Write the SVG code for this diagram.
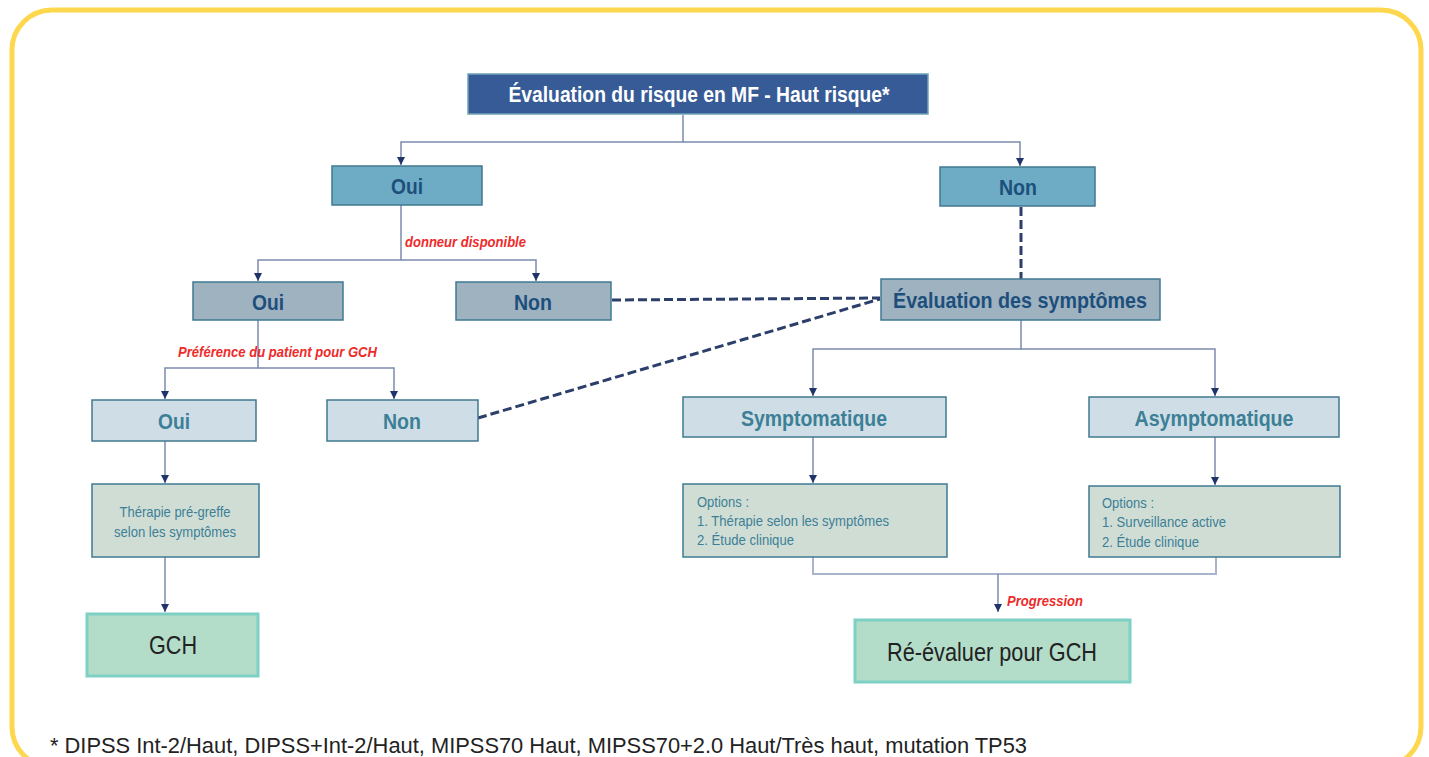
<svg xmlns="http://www.w3.org/2000/svg" width="1429" height="757" viewBox="0 0 1429 757">
<defs>
<style>
.b{stroke-width:1.5}
.title{fill:#365b96;stroke:#6ea3b5}
.l1{fill:#6eacc5;stroke:#41798f}
.l2{fill:#9fb2c0;stroke:#3f7a92}
.l3{fill:#cfdee6;stroke:#41798f}
.opt{fill:#d0ddd5;stroke:#3f7a92}
.fin{fill:#b3ddc8;stroke:#7fd0c4;stroke-width:3}
text{font-family:"Liberation Sans Narrow","Liberation Sans",Arial,sans-serif}
.tb{font-weight:bold;font-size:22px;text-anchor:middle}
.dk{fill:#1d4f7c}
.tl{fill:#3c7f96}
.sm{font-size:15px;fill:#3c7f96}
.red{fill:#ee2a2a;font-weight:bold;font-style:italic;font-size:14px}
.big{font-size:26px;fill:#222;text-anchor:middle}
.ln{fill:none;stroke:#7c8bad;stroke-width:1.5}
.ln2{fill:none;stroke:#aab5cc;stroke-width:2}
.ds{fill:none;stroke:#2c3f6b;stroke-width:3;stroke-dasharray:9 4}
</style>
<marker id="ah" viewBox="0 0 10 10" refX="10" refY="5" markerWidth="8" markerHeight="8" markerUnits="userSpaceOnUse" orient="auto">
<path d="M0,0 L10,5 L0,10 z" fill="#1f3468"/>
</marker>
</defs>
<rect x="12" y="10" width="1409" height="757" rx="40" fill="#fff" stroke="#fdd74d" stroke-width="5"/>

<g id="connectors">
<path class="ln" d="M683,115 V142 H401 V165" marker-end="url(#ah)"/>
<path class="ln" d="M683,142 H1020 V166" marker-end="url(#ah)"/>
<path class="ln" d="M401,205 V260 H258 V281" marker-end="url(#ah)"/>
<path class="ln" d="M401,260 H536 V281" marker-end="url(#ah)"/>
<path class="ln" d="M258,320 V368 H165 V399" marker-end="url(#ah)"/>
<path class="ln" d="M258,368 H394 V399" marker-end="url(#ah)"/>
<path class="ln" d="M165,441 V483" marker-end="url(#ah)"/>
<path class="ln" d="M165,557 V612" marker-end="url(#ah)"/>
<path class="ds" d="M1021,207 V279"/>
<path class="ds" d="M612,300 L880,298"/>
<path class="ds" d="M478,418 L880,299"/>
<path class="ln" d="M1021,320 V349 H813 V396" marker-end="url(#ah)"/>
<path class="ln" d="M1021,349 H1215 V396" marker-end="url(#ah)"/>
<path class="ln" d="M813,437 V483" marker-end="url(#ah)"/>
<path class="ln" d="M1215,437 V485" marker-end="url(#ah)"/>
<path class="ln2" d="M813,557 V574 H1216 V557"/>
<path class="ln" d="M998,574 V612" marker-end="url(#ah)"/>
<text class="red" x="405" y="247" textLength="121" lengthAdjust="spacingAndGlyphs">donneur disponible</text>
<text class="red" x="178" y="357" textLength="199" lengthAdjust="spacingAndGlyphs">Préférence du patient pour GCH</text>
<text class="red" x="1007" y="606" textLength="76" lengthAdjust="spacingAndGlyphs">Progression</text>
</g>

<g id="n-title">
<rect class="title b" x="468" y="74" width="460" height="40"/>
<text class="tb" x="699" y="102" fill="#fff" textLength="381" lengthAdjust="spacingAndGlyphs">Évaluation du risque en MF - Haut risque*</text>
</g>
<g id="n-oui1">
<rect class="l1 b" x="332" y="166" width="150" height="39"/>
<text class="tb dk" x="407" y="194" textLength="32" lengthAdjust="spacingAndGlyphs">Oui</text>
</g>
<g id="n-non1">
<rect class="l1 b" x="940" y="167" width="155" height="39"/>
<text class="tb dk" x="1018" y="195" textLength="38" lengthAdjust="spacingAndGlyphs">Non</text>
</g>
<g id="n-oui2">
<rect class="l2 b" x="193" y="282" width="150" height="38"/>
<text class="tb dk" x="268" y="310" textLength="32" lengthAdjust="spacingAndGlyphs">Oui</text>
</g>
<g id="n-non2">
<rect class="l2 b" x="456" y="282" width="155" height="38"/>
<text class="tb dk" x="533" y="310" textLength="38" lengthAdjust="spacingAndGlyphs">Non</text>
</g>
<g id="n-eval">
<rect class="l2 b" x="881" y="279" width="279" height="41"/>
<text class="tb dk" x="1020" y="308" textLength="254" lengthAdjust="spacingAndGlyphs">Évaluation des symptômes</text>
</g>
<g id="n-oui3">
<rect class="l3 b" x="92" y="400" width="164" height="41"/>
<text class="tb tl" x="174" y="429" textLength="32" lengthAdjust="spacingAndGlyphs">Oui</text>
</g>
<g id="n-non3">
<rect class="l3 b" x="327" y="400" width="151" height="41"/>
<text class="tb tl" x="402" y="429" textLength="38" lengthAdjust="spacingAndGlyphs">Non</text>
</g>
<g id="n-sympt">
<rect class="l3 b" x="683" y="397" width="263" height="40"/>
<text class="tb tl" x="814" y="426" textLength="146" lengthAdjust="spacingAndGlyphs">Symptomatique</text>
</g>
<g id="n-asympt">
<rect class="l3 b" x="1089" y="397" width="250" height="40"/>
<text class="tb tl" x="1214" y="426" textLength="159" lengthAdjust="spacingAndGlyphs">Asymptomatique</text>
</g>
<g id="n-therapie">
<rect class="opt b" x="92" y="484" width="167" height="73"/>
<text class="sm" x="175" y="517" text-anchor="middle" textLength="111" lengthAdjust="spacingAndGlyphs">Thérapie pré-greffe</text>
<text class="sm" x="175" y="537" text-anchor="middle" textLength="122" lengthAdjust="spacingAndGlyphs">selon les symptômes</text>
</g>
<g id="n-opt1">
<rect class="opt b" x="683" y="484" width="264" height="73"/>
<text class="sm" x="697" y="507" textLength="52" lengthAdjust="spacingAndGlyphs">Options :</text>
<text class="sm" x="697" y="526" textLength="192" lengthAdjust="spacingAndGlyphs">1. Thérapie selon les symptômes</text>
<text class="sm" x="697" y="545" textLength="97" lengthAdjust="spacingAndGlyphs">2. Étude clinique</text>
</g>
<g id="n-opt2">
<rect class="opt b" x="1089" y="486" width="251" height="71"/>
<text class="sm" x="1102" y="508" textLength="52" lengthAdjust="spacingAndGlyphs">Options :</text>
<text class="sm" x="1102" y="527" textLength="124" lengthAdjust="spacingAndGlyphs">1. Surveillance active</text>
<text class="sm" x="1102" y="547" textLength="97" lengthAdjust="spacingAndGlyphs">2. Étude clinique</text>
</g>
<g id="n-gch">
<rect class="fin" x="87" y="614" width="171" height="62"/>
<text class="big" x="173" y="654" textLength="48" lengthAdjust="spacingAndGlyphs">GCH</text>
</g>
<g id="n-reeval">
<rect class="fin" x="855" y="620" width="275" height="62"/>
<text class="big" x="992" y="661" textLength="210" lengthAdjust="spacingAndGlyphs">Ré-évaluer pour GCH</text>
</g>
<text x="50" y="753" font-size="22" fill="#222" textLength="977" lengthAdjust="spacingAndGlyphs">* DIPSS Int-2/Haut, DIPSS+Int-2/Haut, MIPSS70 Haut, MIPSS70+2.0 Haut/Très haut, mutation TP53</text>
</svg>
